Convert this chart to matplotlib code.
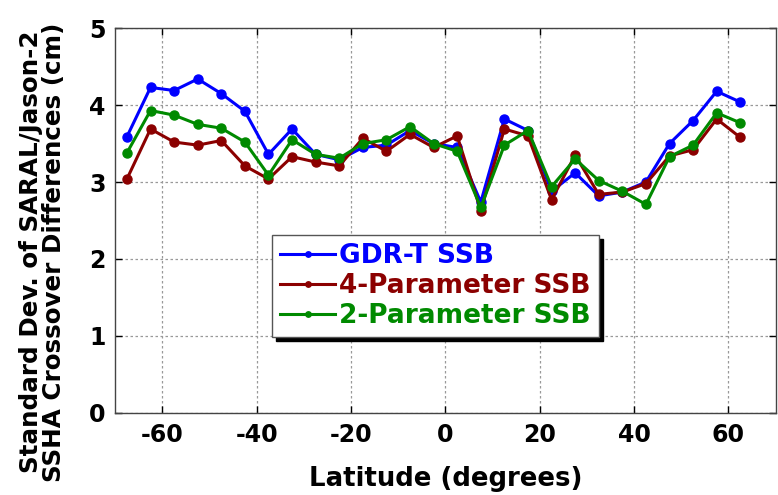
import matplotlib
matplotlib.use("Agg")
import matplotlib.pyplot as plt

# Latitude bin centres (degrees)
latitude = [-67.5, -62.5, -57.5, -52.5, -47.5, -42.5, -37.5, -32.5, -27.5,
            -22.5, -17.5, -12.5, -7.5, -2.5, 2.5, 7.5, 12.5, 17.5, 22.5,
            27.5, 32.5, 37.5, 42.5, 47.5, 52.5, 57.5, 62.5]

# Std. dev. of SARAL/Jason-2 SSHA crossover differences (cm)
gdr_t = [3.59, 4.23, 4.19, 4.34, 4.15, 3.92, 3.36, 3.69, 3.36,
         3.29, 3.45, 3.48, 3.67, 3.50, 3.45, 2.74, 3.82, 3.67, 2.88,
         3.12, 2.82, 2.87, 3.00, 3.50, 3.80, 4.18, 4.04]
four_param = [3.04, 3.69, 3.52, 3.48, 3.54, 3.21, 3.04, 3.33, 3.26,
              3.21, 3.57, 3.40, 3.62, 3.45, 3.60, 2.63, 3.69, 3.60, 2.77,
              3.35, 2.84, 2.87, 2.98, 3.34, 3.42, 3.82, 3.58]
two_param = [3.38, 3.93, 3.87, 3.75, 3.70, 3.52, 3.09, 3.55, 3.36,
             3.31, 3.50, 3.55, 3.72, 3.50, 3.40, 2.67, 3.48, 3.67, 2.94,
             3.30, 3.02, 2.88, 2.71, 3.33, 3.48, 3.90, 3.77]

series = [
    ("GDR-T SSB", gdr_t, "#0000ff"),
    ("4-Parameter SSB", four_param, "#8b0000"),
    ("2-Parameter SSB", two_param, "#008a00"),
]

plt.rcParams["font.family"] = ["DejaVu Sans"]
plt.rcParams["font.weight"] = "bold"
plt.rcParams["axes.unicode_minus"] = False

fig = plt.figure(figsize=(7.78, 4.95), dpi=100)
ax = fig.add_axes([0.148, 0.166, 0.849, 0.777])

for name, vals, col in series:
    ax.plot(latitude, vals, "-o", color=col, lw=2.2, ms=6.5, label=name)

ax.set_xlim(-70, 70)
ax.set_ylim(0, 5)
ax.set_xticks([-60, -40, -20, 0, 20, 40, 60])
ax.set_yticks([0, 1, 2, 3, 4, 5])
ax.grid(True, color="#999999", linestyle=(0, (2, 2)), linewidth=0.9)
ax.tick_params(direction="in", top=True, right=True, labelsize=17,
               length=5, width=1, pad=7)
for lab in ax.get_xticklabels() + ax.get_yticklabels():
    lab.set_fontweight("bold")
for sp in ax.spines.values():
    sp.set_linewidth(1.0)
    sp.set_color("#444444")

ax.set_xlabel("Latitude (degrees)", fontsize=18.7, fontweight="bold", labelpad=14)
ax.set_ylabel("Standard Dev. of SARAL/Jason-2\nSSHA Crossover Differences (cm)",
              fontsize=17.7, fontweight="bold", linespacing=0.95)
ax.yaxis.set_label_coords(-0.074, 0.418)

leg = ax.legend(loc="upper left", bbox_to_anchor=(0.2375, 0.462),
                borderaxespad=0, fontsize=19, markerscale=0.6,
                handlelength=2.1, handletextpad=0.15, labelspacing=0.15,
                borderpad=0.3, fancybox=False, framealpha=1,
                edgecolor="#555555",
                shadow={"color": "black", "alpha": 1, "ox": 3, "oy": -3})
for txt, (_, _, col) in zip(leg.get_texts(), series):
    txt.set_color(col)
    txt.set_fontweight("bold")

fig.savefig("out.png", dpi=100)
